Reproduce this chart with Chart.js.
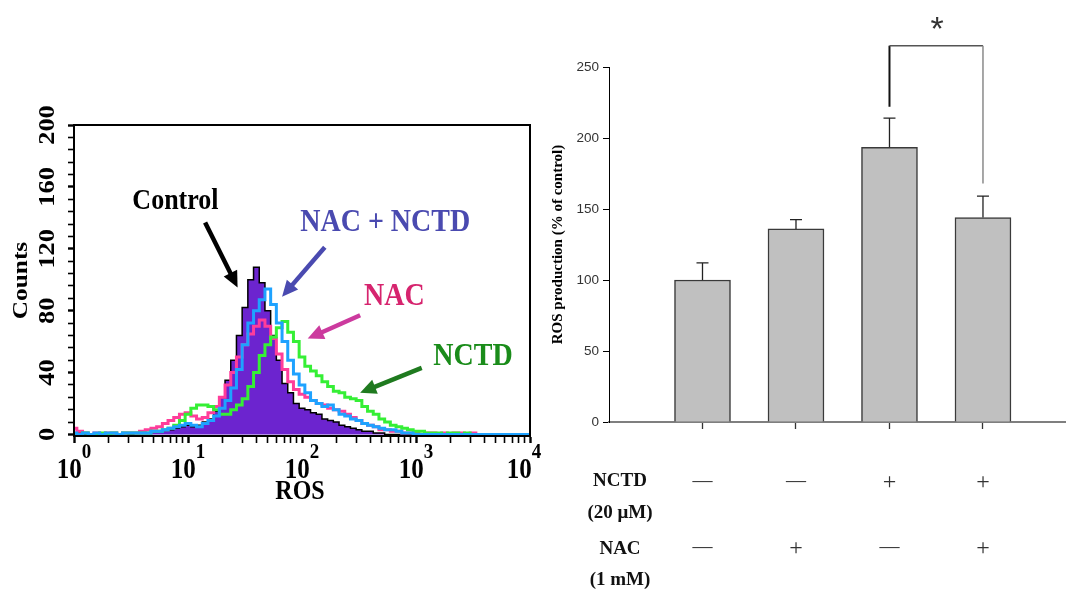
<!DOCTYPE html>
<html>
<head>
<meta charset="utf-8">
<script src="https://cdn.jsdelivr.net/npm/chart.js@4.4.1/dist/chart.umd.min.js"></script>
<style>
  html, body { margin: 0; padding: 0; background: #fff; }
  #wrap { position: relative; width: 1066px; height: 592px; overflow: hidden; }
  #histChart { position: absolute; left: 0; top: 0; }
  #barChart { position: absolute; left: 540px; top: 0; }
</style>
</head>
<body>
<div id="wrap">
  <canvas id="histChart" width="560" height="592"></canvas>
  <canvas id="barChart" width="526" height="592"></canvas>
</div>
<script>
// ---- flow histogram (left) ----
// bin centres in log10 units, 0.05 decade apart (10^0 .. 10^4)
const channels = Array.from({ length: 81 }, (_, i) => +(i * 0.05).toFixed(2));

const controlCounts = [0,1,0,0,1,0,0,1,0,1,0,1,
  1,1,2,2,3,3,4,5,6,5,6,8,10,15,24,35,48,64,82,100,108,98,80,64,48,33,27,20,
  17,16,14,13,10,9,8,6,5,4,3,2,2,1,1,
  0,0,0,0,0,0,0,0,0,0,0,0,0,0,0,0,0,0,0,0,0,0,0,0,0,0];
const nacNctdCounts = [1,0,1,0,1,0,1,1,0,1,1,1,
  1,1,2,2,3,4,5,6,7,6,5,7,9,12,17,22,30,42,58,72,80,87,94,84,72,60,48,39,
  32,27,22,20,18,19,16,13,12,10,9,7,6,5,4,3,3,2,1,1,
  0,0,0,0,0,0,0,0,0,0,0,0,0,0,0,0,0,0,0,0,0];
const nacCounts = [4,2,1,0,1,0,1,1,0,1,1,1,
  2,3,4,5,7,9,11,13,14,12,10,11,14,18,24,32,40,50,58,65,70,74,70,62,52,42,34,29,
  26,24,22,20,19,17,16,15,13,11,9,7,6,5,3,3,2,2,1,1,
  1,0,1,1,0,1,0,1,1,0,1,0,0,0,0,0,0,0,0,0,0];
const nctdCounts = [0,0,1,0,0,1,0,1,0,1,1,1,
  1,1,2,2,3,4,6,9,13,17,19,19,18,16,13,13,16,19,23,31,40,51,58,63,69,73,66,60,
  50,44,41,38,34,31,28,27,24,23,22,18,15,13,10,8,6,5,4,3,
  2,2,1,1,1,0,1,1,0,1,0,0,0,0,0,0,0,0,0,0,0];

const decadeLabels = ['0', '1', '2', '3', '4'];
const countLabels = [0, 40, 80, 120, 160, 200];

// ---- ROS bar chart (right) ----
const groups = ['Control', 'NAC', 'NCTD', 'NCTD + NAC'];
const rosMean = [100, 136, 193.5, 144];
const rosErr = [12, 6.5, 20.5, 15];
const nctdRow = ['—', '—', '+', '+'];
const nacRow = ['—', '+', '—', '+'];
const bracket = { from: 3, to: 4, top: 265, leftEnd: 222, rightEnd: 168 };

const serif = '"Liberation Serif", "Times New Roman", serif';
const sans = '"Liberation Sans", Arial, sans-serif';
const STRETCH = 1.15;

function toXY(counts) {
  return counts.map((c, i) => ({ x: channels[i], y: c }));
}

// text in the left panel is a bit taller than wide in the source figure
function tallText(ctx, text, x, y, font, color, rot, align, base) {
  ctx.save();
  ctx.translate(x, y);
  ctx.scale(1, STRETCH);
  if (rot) ctx.rotate(rot);
  ctx.font = font;
  ctx.fillStyle = color;
  ctx.textAlign = align || 'center';
  ctx.textBaseline = base || 'middle';
  ctx.fillText(text, 0, 0);
  ctx.restore();
}

const annotations = [
  { text: 'Control', color: '#000', at: [0.89, 151], size: 26, from: [1.15, 137], to: [1.435, 95], arrow: '#000' },
  { text: 'NAC + NCTD', color: '#4a4ab0', at: [2.73, 137], size: 28, from: [2.2, 121], to: [1.825, 89], arrow: '#4a4ab0' },
  { text: 'NAC', color: '#d6246e', at: [2.81, 89], size: 28, from: [2.51, 77], to: [2.05, 62], arrow: '#cc3a9e' },
  { text: 'NCTD', color: '#1a8c1a', at: [3.5, 50], size: 28, from: [3.05, 43], to: [2.51, 27], arrow: '#1f7a1f' }
];

function drawArrow(ctx, x1, y1, x2, y2, color) {
  const a = Math.atan2(y2 - y1, x2 - x1);
  const head = 16, half = 7.5;
  ctx.save();
  ctx.strokeStyle = color;
  ctx.fillStyle = color;
  ctx.lineWidth = 4.5;
  ctx.beginPath();
  ctx.moveTo(x1, y1);
  ctx.lineTo(x2 - Math.cos(a) * head * 0.9, y2 - Math.sin(a) * head * 0.9);
  ctx.stroke();
  ctx.beginPath();
  ctx.moveTo(x2, y2);
  ctx.lineTo(x2 - Math.cos(a) * head + Math.sin(a) * half, y2 - Math.sin(a) * head - Math.cos(a) * half);
  ctx.lineTo(x2 - Math.cos(a) * head - Math.sin(a) * half, y2 - Math.sin(a) * head + Math.cos(a) * half);
  ctx.closePath();
  ctx.fill();
  ctx.restore();
}

const histDecor = {
  id: 'histDecor',
  afterDraw(chart) {
    const ctx = chart.ctx;
    const xs = chart.scales.x, ys = chart.scales.y;
    const a = chart.chartArea;

    // box
    ctx.save();
    ctx.strokeStyle = '#000';
    ctx.lineWidth = 2;
    ctx.strokeRect(a.left, a.top, a.right - a.left, a.bottom - a.top);
    ctx.restore();

    // y tick labels (rotated)
    countLabels.forEach(v => {
      tallText(ctx, String(v), 48, ys.getPixelForValue(v), 'bold 23px ' + serif, '#000', -Math.PI / 2);
    });
    tallText(ctx, 'Counts', 21, (a.top + a.bottom) / 2, 'bold 22px ' + serif, '#000', -Math.PI / 2);

    // x tick labels 10^n
    decadeLabels.forEach((sup, d) => {
      const px = xs.getPixelForValue(d);
      ctx.font = 'bold 25px ' + serif;
      const w1 = ctx.measureText('10').width;
      ctx.font = 'bold 19px ' + serif;
      const w2 = ctx.measureText(sup).width;
      let start = px - (w1 + w2) / 2;
      if (d === 4) start -= 6;
      tallText(ctx, '10', start, 478, 'bold 25px ' + serif, '#000', 0, 'left', 'alphabetic');
      tallText(ctx, sup, start + w1, 458, 'bold 19px ' + serif, '#000', 0, 'left', 'alphabetic');
    });
    tallText(ctx, 'ROS', (a.left + a.right) / 2 - 2, 492, 'bold 24px ' + serif, '#000');

    // labels and arrows
    annotations.forEach(n => {
      tallText(ctx, n.text, xs.getPixelForValue(n.at[0]), ys.getPixelForValue(n.at[1]),
        'bold ' + n.size + 'px ' + serif, n.color);
      drawArrow(ctx,
        xs.getPixelForValue(n.from[0]), ys.getPixelForValue(n.from[1]),
        xs.getPixelForValue(n.to[0]), ys.getPixelForValue(n.to[1]), n.arrow);
    });
  }
};

const isDecade = v => Math.abs(v - Math.round(v)) < 1e-6;

new Chart(document.getElementById('histChart'), {
  type: 'line',
  data: {
    datasets: [
      { label: 'NAC + NCTD', data: toXY(nacNctdCounts), borderColor: '#1ea2ff', borderWidth: 3, stepped: 'middle', pointRadius: 0, fill: false },
      { label: 'NCTD', data: toXY(nctdCounts), borderColor: '#35ef35', borderWidth: 3, stepped: 'middle', pointRadius: 0, fill: false },
      { label: 'NAC', data: toXY(nacCounts), borderColor: '#ff3d9a', borderWidth: 3, stepped: 'middle', pointRadius: 0, fill: false },
      { label: 'Control', data: toXY(controlCounts), borderColor: '#000', backgroundColor: '#6c24cf', borderWidth: 1.5, stepped: 'middle', pointRadius: 0, fill: 'origin' }
    ]
  },
  options: {
    responsive: false,
    animation: false,
    devicePixelRatio: 1,
    layout: { padding: { top: 125, right: 30, left: 0, bottom: 0 } },
    plugins: { legend: { display: false }, tooltip: { enabled: false } },
    scales: {
      x: {
        type: 'linear',
        min: 0,
        max: 4,
        afterBuildTicks: s => {
          const t = [];
          for (let d = 0; d < 4; d++) {
            for (let m = 1; m < 10; m++) t.push({ value: d + Math.log10(m) });
          }
          t.push({ value: 4 });
          s.ticks = t;
        },
        ticks: { display: false },
        grid: {
          drawOnChartArea: false,
          tickLength: 7,
          tickColor: '#000',
          tickWidth: c => (c.tick && isDecade(c.tick.value) ? 2.4 : 1.6)
        },
        border: { color: '#000', width: 2 },
        afterFit: s => { s.height = 156; }
      },
      y: {
        min: -1,
        max: 200,
        afterBuildTicks: s => {
          const t = [];
          for (let v = 0; v <= 200; v += 8) t.push({ value: v });
          s.ticks = t;
        },
        ticks: { display: false },
        grid: {
          drawOnChartArea: false,
          tickLength: 6,
          tickColor: '#000',
          tickWidth: c => (c.tick && c.tick.value % 40 === 0 ? 2.4 : 1.6)
        },
        border: { color: '#000', width: 2 },
        afterFit: s => { s.width = 74; }
      }
    }
  },
  plugins: [histDecor]
});

// ---- right panel ----
const barDecor = {
  id: 'barDecor',
  afterDatasetsDraw(chart) {
    const ctx = chart.ctx;
    const xs = chart.scales.x, ys = chart.scales.y;
    ctx.save();
    ctx.strokeStyle = '#222';
    ctx.lineWidth = 1.3;
    rosMean.forEach((v, i) => {
      const x = xs.getPixelForValue(i + 1);
      const yb = ys.getPixelForValue(v);
      const yt = ys.getPixelForValue(v + rosErr[i]);
      ctx.beginPath();
      ctx.moveTo(x, yb);
      ctx.lineTo(x, yt);
      ctx.moveTo(x - 6, yt);
      ctx.lineTo(x + 6, yt);
      ctx.stroke();
    });
    ctx.restore();
  },
  afterDraw(chart) {
    const ctx = chart.ctx;
    const xs = chart.scales.x, ys = chart.scales.y;
    const xl = xs.getPixelForValue(bracket.from);
    const xr = xs.getPixelForValue(bracket.to);
    const yt = ys.getPixelForValue(bracket.top);
    ctx.save();
    ctx.lineWidth = 2;
    ctx.strokeStyle = '#111';
    ctx.beginPath();
    ctx.moveTo(xl, ys.getPixelForValue(bracket.leftEnd));
    ctx.lineTo(xl, yt);
    ctx.stroke();
    ctx.lineWidth = 1.5;
    ctx.strokeStyle = '#555';
    ctx.beginPath();
    ctx.moveTo(xl, yt);
    ctx.lineTo(xr, yt);
    ctx.stroke();
    ctx.strokeStyle = '#8a8a8a';
    ctx.beginPath();
    ctx.moveTo(xr, yt);
    ctx.lineTo(xr, ys.getPixelForValue(bracket.rightEnd));
    ctx.stroke();

    ctx.fillStyle = '#333';
    ctx.font = '34px ' + sans;
    ctx.textAlign = 'center';
    ctx.textBaseline = 'alphabetic';
    ctx.fillText('*', (xl + xr) / 2 + 1, 40);

    // treatment table
    const lx = xs.getPixelForValue(0) + 11;
    ctx.fillStyle = '#111';
    ctx.textBaseline = 'middle';
    ctx.font = 'bold 19px ' + serif;
    ctx.fillText('NCTD', lx, 481);
    ctx.fillText('(20 μM)', lx, 513);
    ctx.fillText('NAC', lx, 549);
    ctx.fillText('(1 mM)', lx, 580);
    ctx.fillStyle = '#333';
    [[nctdRow, 483], [nacRow, 549]].forEach(([row, y]) => {
      row.forEach((s, i) => {
        ctx.font = (s === '+' ? '24px ' : '20px ') + serif;
        ctx.fillText(s, xs.getPixelForValue(i + 1), s === '+' ? y : y - 1);
      });
    });
    ctx.restore();
  }
};

new Chart(document.getElementById('barChart'), {
  type: 'bar',
  data: {
    labels: groups,
    datasets: [{
      label: 'ROS production',
      data: rosMean.map((v, i) => ({ x: i + 1, y: v })),
      backgroundColor: '#c0c0c0',
      borderColor: '#3a3a3a',
      borderWidth: 1.5,
      barThickness: 56
    }]
  },
  options: {
    responsive: false,
    animation: false,
    devicePixelRatio: 1,
    layout: { padding: { top: 67, right: 0, left: 0, bottom: 0 } },
    plugins: { legend: { display: false }, tooltip: { enabled: false } },
    scales: {
      x: {
        type: 'linear',
        offset: false,
        min: 0,
        max: 4.888,
        afterBuildTicks: s => { s.ticks = [1, 2, 3, 4].map(v => ({ value: v })); },
        ticks: { display: false },
        grid: { offset: false, drawOnChartArea: false, tickLength: 7, tickColor: '#333', tickWidth: 1.3 },
        border: { color: '#7f7f7f', width: 2 },
        afterFit: s => { s.height = 170; }
      },
      y: {
        min: 0,
        max: 250,
        ticks: { stepSize: 50, color: '#333', padding: 4, font: { family: sans, size: 13.5 } },
        grid: { drawOnChartArea: false, tickLength: 6, tickColor: '#000', tickWidth: 1 },
        border: { color: '#000', width: 1 },
        title: {
          display: true,
          text: 'ROS production (% of control)',
          color: '#000',
          font: { family: serif, size: 15, weight: 'bold' },
          padding: { top: 9, bottom: 0 }
        },
        afterFit: s => { s.width = 69; }
      }
    }
  },
  plugins: [barDecor]
});
</script>
</body>
</html>
